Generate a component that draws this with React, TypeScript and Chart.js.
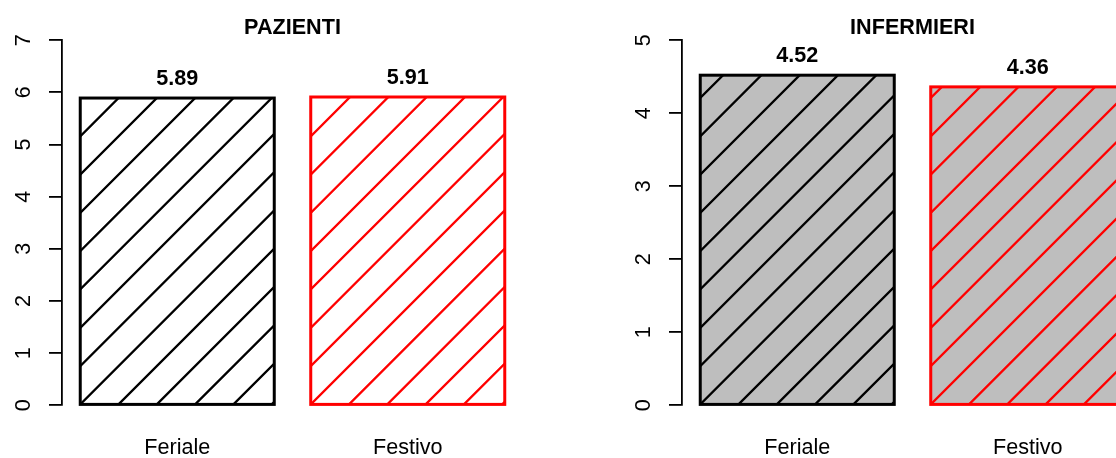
import React, { useEffect, useRef } from 'react';
import { Chart, registerables } from 'chart.js';

Chart.register(...registerables);

// ---- data ----
const categories = ['Feriale', 'Festivo'];
const pazientiValues = [5.89, 5.91];
const infermieriValues = [4.52, 4.36];
const pazientiTicks = [0, 1, 2, 3, 4, 5, 6, 7];
const infermieriTicks = [0, 1, 2, 3, 4, 5];
const edgeColors = ['#000000', '#FF0000'];

const FONT = '"Liberation Sans", Arial, Helvetica, sans-serif';
const FS = 21.6;
const CH = 458;
const PLOT_BOTTOM = 405.3;

const hatchPlugin = {
  id: 'hatchBars',
  afterDatasetsDraw(chart: any) {
    const ctx = chart.ctx;
    chart.data.datasets.forEach((ds: any, di: number) => {
      const meta = chart.getDatasetMeta(di);
      meta.data.forEach((el: any, i: number) => {
        const { x, y, base, width } = el.getProps(['x', 'y', 'base', 'width'], true);
        const left = x - width / 2;
        const top = Math.min(y, base);
        const bottom = Math.max(y, base);
        const w = width;
        const h = bottom - top;
        const color = ds.edgeColors[i];
        // hatch lines
        ctx.save();
        ctx.beginPath();
        ctx.rect(left, top, w, h);
        ctx.clip();
        ctx.strokeStyle = color;
        ctx.lineWidth = 2.3;
        ctx.beginPath();
        const s = 38.3;
        for (let o = -Math.ceil(h / s) * s; o <= w + 0.01; o += s) {
          ctx.moveTo(left + o, bottom);
          ctx.lineTo(left + o + h + s, bottom - h - s);
        }
        ctx.stroke();
        ctx.restore();
        // border
        ctx.save();
        ctx.strokeStyle = color;
        ctx.lineWidth = 3;
        ctx.lineJoin = 'miter';
        ctx.strokeRect(left, top, w, h);
        // value label
        ctx.fillStyle = '#000';
        ctx.font = `bold ${FS}px ${FONT}`;
        ctx.textAlign = 'center';
        ctx.textBaseline = 'alphabetic';
        ctx.fillText(Number(ds.data[i]).toFixed(2), x, top - 13);
        ctx.restore();
      });
    });
  },
};

type PanelProps = {
  title: string;
  values: number[];
  ticks: number[];
  fill: string;
  left: number;
  canvasWidth: number;
  yWidth: number;
  padRight: number;
};

function Panel({ title, values, ticks, fill, left, canvasWidth, yWidth, padRight }: PanelProps) {
  const ref = useRef<HTMLCanvasElement | null>(null);
  useEffect(() => {
    if (!ref.current) return;
    const chart = new Chart(ref.current, {
      type: 'bar',
      data: {
        labels: categories,
        datasets: [
          {
            data: values,
            backgroundColor: values.map(() => fill),
            borderWidth: 0,
            barPercentage: 0.8417,
            categoryPercentage: 1,
            edgeColors,
          } as any,
        ],
      },
      options: {
        responsive: false,
        animation: false,
        devicePixelRatio: 1,
        layout: { padding: { left: 0, right: padRight, top: 0, bottom: 0 } },
        plugins: {
          legend: { display: false },
          tooltip: { enabled: false },
          title: {
            display: true,
            text: title,
            fullSize: false,
            color: '#000',
            font: { family: FONT, size: FS, weight: 'bold', lineHeight: 1.15 },
            padding: { top: 15.3, bottom: 0 },
          },
        },
        scales: {
          x: {
            type: 'category',
            offset: true,
            grid: { display: false, drawTicks: false },
            border: { display: false },
            ticks: {
              color: '#000',
              font: { family: FONT, size: FS },
              padding: 30,
              minRotation: 0,
              maxRotation: 0,
              autoSkip: false,
            },
            afterFit: (s: any) => {
              s.height = CH - PLOT_BOTTOM;
            },
          },
          y: {
            min: ticks[0],
            max: ticks[ticks.length - 1],
            afterBuildTicks: (s: any) => {
              s.ticks = ticks.map((v) => ({ value: v }));
            },
            ticks: {
              color: '#000',
              font: { family: FONT, size: FS },
              minRotation: 90,
              maxRotation: 90,
              crossAlign: 'center',
              padding: 19,
              autoSkip: false,
            },
            grid: {
              drawOnChartArea: false,
              drawTicks: true,
              tickLength: 13,
              color: '#000',
              lineWidth: 1.8,
            },
            border: { display: true, color: '#000', width: 1.8 },
            afterFit: (s: any) => {
              s.width = yWidth;
            },
          },
        },
      } as any,
      plugins: [hatchPlugin],
    });
    return () => chart.destroy();
  }, []);
  return (
    <canvas
      ref={ref}
      width={canvasWidth}
      height={CH}
      style={{ position: 'absolute', left, top: 0, width: canvasWidth, height: CH, display: 'block' }}
    />
  );
}

export default function App() {
  return (
    <div
      style={{
        position: 'absolute',
        left: 0,
        top: 0,
        width: 1116,
        height: CH,
        overflow: 'hidden',
        background: '#ffffff',
      }}
    >
      <Panel
        title="PAZIENTI"
        values={pazientiValues}
        ticks={pazientiTicks}
        fill="#FFFFFF"
        left={0}
        canvasWidth={558}
        yWidth={62}
        padRight={35}
      />
      <Panel
        title="INFERMIERI"
        values={infermieriValues}
        ticks={infermieriTicks}
        fill="#BEBEBE"
        left={558}
        canvasWidth={600}
        yWidth={124}
        padRight={15}
      />
    </div>
  );
}
